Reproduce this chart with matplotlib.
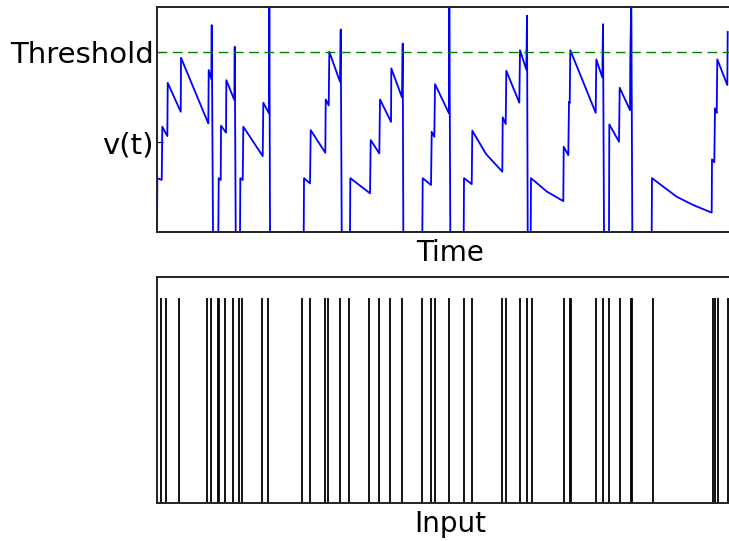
import matplotlib
matplotlib.use("Agg")
from matplotlib import pyplot as plt

# input spike times (same time units as the voltage trace)
input_times = [3.7, 9, 22, 50.3, 54, 61, 62.3, 67.7, 76.3, 81.7, 85, 105, 111,
               145.3, 152.7, 167.7, 171.3, 183, 192.3, 212.3, 222, 233.3, 245,
               265.3, 273.7, 278, 292, 307.3, 314.7, 345.3, 349, 363, 369.7,
               374.7, 407, 412.8, 413.6, 439, 445.7, 451.7, 463, 473.9, 474.7,
               496.3, 555.7, 558.3, 561.3, 570.6]

# membrane potential polyline (threshold = 1)
v_t = [0, 0.3, 4.7, 5.3, 10.3, 10.7, 23.7, 24, 51.3, 51.7, 54.3, 54.7, 56,
       61.3, 61.7, 63.7, 64, 69, 69.3, 77.3, 77.7, 78.7,
       83, 83.3, 85.7, 86.3, 105.7, 106.3, 112, 112.3, 113,
       146.7, 147, 153, 153.7, 168.3, 168.7, 171.7, 172.3, 183, 183.7, 184.7,
       193, 193.3, 213, 213.7, 222.3, 223, 234, 234.3, 245, 245.7, 246.3,
       265.3, 265.7, 274, 274.7, 277.3, 278, 292, 292.3, 293.3,
       306.7, 307, 314.7, 315.3, 329, 345.3, 345.7, 348.7, 349.3, 362.3, 363,
       369.3, 370, 370.7,
       373.7, 374, 390, 406.3, 406.7, 411.3, 412, 412.7, 413.3, 438.7, 439.3,
       445.3, 446, 447,
       452, 452.3, 462, 462.7, 473, 473.3, 474.3, 475.3,
       494.7, 495, 519.7, 536.3, 554.7, 555, 557.3, 558, 559.7, 560.3, 570.3,
       570.7]
v_val = [0, 0.30, 0.29, 0.585, 0.533, 0.828, 0.668, 0.967, 0.603, 0.899, 0.849,
         1.148, 0,
         0, 0.30, 0.29, 0.591, 0.552, 0.843, 0.733, 1.028, 0,
         0, 0.30, 0.29, 0.585, 0.422, 0.718, 0.659, 1.3, 0,
         0, 0.30, 0.271, 0.566, 0.441, 0.736, 0.703, 1.0, 0.834, 1.124, 0,
         0, 0.30, 0.216, 0.511, 0.437, 0.736, 0.612, 0.908, 0.747, 1.046, 0,
         0, 0.30, 0.262, 0.557, 0.529, 0.821, 0.659, 1.3, 0,
         0, 0.30, 0.267, 0.563, 0.434, 0.336, 0.637, 0.60, 0.895, 0.718, 1.009,
         0.902, 1.20, 0,
         0, 0.30, 0.225, 0.173, 0.474, 0.428, 0.723, 0.715, 1.009, 0.662, 0.958,
         0.858, 1.153, 0,
         0, 0.598, 0.502, 0.801, 0.677, 0.972, 1.3, 0,
         0, 0.30, 0.197, 0.151, 0.109, 0.404, 0.388, 0.687, 0.662, 0.958, 0.816,
         1.11]

threshold = 1.0
t_max = 586

fig = plt.figure(figsize=(7.29, 5.41), dpi=100)
# axes run a little past the right edge of the figure, as in the original
ax1 = fig.add_axes([0.2154, 0.5706, 0.8038, 0.417])
ax2 = fig.add_axes([0.2154, 0.0697, 0.8038, 0.4177])

ax1.plot(v_t, v_val, color="blue", lw=1.3)
ax1.axhline(threshold, color="green", ls="--", lw=1.0, dashes=(7, 4))
ax1.set_xlim(0, t_max)
ax1.set_ylim(0, 1.25)
ax1.set_xticks([])
ax1.set_yticks([0.5, threshold])
ax1.set_yticklabels(["v(t)", "Threshold"], fontsize=21)
ax1.tick_params(axis="y", direction="in", length=4, pad=2.5)
ax1.set_xlabel("Time", fontsize=20, labelpad=5)

ax2.vlines(input_times, 0, 1, color="black", lw=1.3)
ax2.set_xlim(0, t_max)
ax2.set_ylim(0, 1.1)
ax2.set_xticks([])
ax2.set_yticks([])
ax2.set_xlabel("Input", fontsize=20, labelpad=5)

for ax in (ax1, ax2):
    for sp in ax.spines.values():
        sp.set_linewidth(1.4)
        sp.set_color("#222222")

fig.savefig("out.png", dpi=100)
